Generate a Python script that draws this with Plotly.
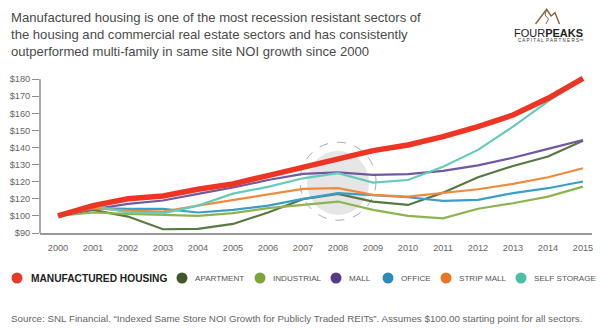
import plotly.graph_objects as go

# ---- data -------------------------------------------------------------
years = [2000, 2001, 2002, 2003, 2004, 2005, 2006, 2007,
         2008, 2009, 2010, 2011, 2012, 2013, 2014, 2015]

manufactured_housing = [100, 106, 110, 111.7, 115.6, 118.7, 123.6, 128.5,
                        133.3, 138.2, 141.5, 146.4, 152.2, 159, 168.8, 180.5]
apartment = [100, 103.5, 99.6, 92.2, 92.4, 95.3, 102, 109.8,
             112.9, 108.4, 106.4, 113.6, 122.6, 129.2, 134.7, 144]
industrial = [100, 102, 101.2, 100.6, 100, 101.6, 104.5, 106.4,
              108.4, 103.5, 100, 98.6, 104.2, 107.4, 111.3, 117.1]
mall = [100, 103.9, 107, 109, 112.9, 116.6, 121, 124.6,
        125.5, 124, 124.4, 126.3, 129.6, 134, 139.2, 144.4]
office = [100, 104.5, 104.1, 104.1, 102, 103.5, 106, 110,
          113.3, 111.9, 110.9, 108.8, 109.4, 113.3, 116.2, 120.1]
strip_mall = [100, 104.5, 103.1, 102.5, 106, 109.4, 112.7, 115.8,
              116.2, 112.3, 111.3, 113.3, 115.6, 118.7, 122.6, 127.9]
self_storage = [100, 106, 102, 101.5, 106, 113, 117, 122,
                125, 119.5, 121, 128.8, 138.6, 152.2, 167, 180]

y_tick_values = [90, 100, 110, 120, 130, 140, 150, 160, 170, 180]
y_tick_labels = ["$90", "$100", "$120", "$120", "$130", "$140",
                 "$150", "$160", "$170", "$180"]

series = [
    ("MANUFACTURED HOUSING", manufactured_housing, "#ee3524", "#e8392a"),
    ("APARTMENT", apartment, "#587a42", "#3f5a28"),
    ("INDUSTRIAL", industrial, "#8db44f", "#7ea53a"),
    ("MALL", mall, "#7257a2", "#553a8a"),
    ("OFFICE", office, "#3a9fc8", "#2a8fb8"),
    ("STRIP MALL", strip_mall, "#f08a3e", "#e87722"),
    ("SELF STORAGE", self_storage, "#66cbb8", "#4dbfa6"),
]

# ---- geometry ----------------------------------------------------------
W, H = 600, 329
L, R, T, B = 40, 592, 74, 233          # plot area in page pixels
FONT = "Liberation Sans, Arial, sans-serif"


def px(x):
    return (x - L) / (R - L)


def py(y):
    return (B - y) / (B - T)


fig = go.Figure()

# highlighted 2008 region (drawn under the lines)
fig.add_shape(type="circle", xref="x", yref="y", xsizemode="pixel", ysizemode="pixel",
              xanchor=2008, yanchor=119.3, x0=-31, x1=31, y0=-32, y1=32,
              fillcolor="#e6e6e6", line=dict(width=0), layer="below")
fig.add_shape(type="circle", xref="x", yref="y", xsizemode="pixel", ysizemode="pixel",
              xanchor=2008, yanchor=120.3, x0=-38, x1=38, y0=-39, y1=39,
              fillcolor="rgba(0,0,0,0)", line=dict(color="#aaaaaa", width=1, dash="dash"),
              layer="below")

# sector lines: manufactured housing drawn last so it sits on top
for name, values, color, _ in series[1:] + series[:1]:
    fig.add_trace(go.Scatter(
        x=years, y=values, mode="lines", name=name,
        line=dict(color=color, width=5.5 if name == "MANUFACTURED HOUSING" else 2.2),
        cliponaxis=False, showlegend=False))

# y axis line (from $90 to $180)
fig.add_shape(type="line", xref="paper", yref="y", x0=0, x1=0, y0=90, y1=180,
              line=dict(color="#8c8c8c", width=1.5))

annotations = []

# title
title_lines = [
    "Manufactured housing is one of the most recession resistant sectors of",
    "the housing and commercial real estate sectors and has consistently",
    "outperformed multi-family in same site NOI growth since 2000",
]
annotations.append(dict(
    xref="paper", yref="paper", x=px(9), y=py(7.5), xanchor="left", yanchor="top",
    text="<br>".join(title_lines), showarrow=False, align="left",
    font=dict(family=FONT, size=13.1, color="#4a4a4a")))

# logo
fig.add_shape(type="path", xref="paper", yref="paper",
              path=(f"M {px(535.5)} {py(24)} L {px(546.7)} {py(9.3)} L {px(551)} {py(16)} "
                    f"L {px(555)} {py(12.7)} L {px(559.5)} {py(24)}"),
              line=dict(color="#8c6239", width=1.4))
fig.add_shape(type="path", xref="paper", yref="paper",
              path=(f"M {px(546.7)} {py(9.3)} L {px(545)} {py(15)} L {px(548.5)} {py(19)} "
                    f"L {px(546)} {py(24)}"),
              line=dict(color="#8c6239", width=1))
annotations.append(dict(
    xref="paper", yref="paper", x=px(548), y=py(33), xanchor="center", yanchor="middle",
    text="FOUR<b>PEAKS</b>", showarrow=False,
    font=dict(family=FONT, size=11, color="#222222")))
annotations.append(dict(
    xref="paper", yref="paper", x=px(551), y=py(40.5), xanchor="center", yanchor="middle",
    text="C A P I T A L  P A R T N E R S™", showarrow=False,
    font=dict(family=FONT, size=4.6, color="#333333")))

# legend row
legend_x = [17, 182, 260, 336, 388, 446, 521]
legend_y = 278
for (name, _, _, dot), cx in zip(series, legend_x):
    fig.add_shape(type="circle", xref="paper", yref="paper",
                  xsizemode="pixel", ysizemode="pixel",
                  xanchor=px(cx), yanchor=py(legend_y), x0=-5.5, x1=5.5, y0=-5.5, y1=5.5,
                  fillcolor=dot, line=dict(width=0))
    big = name == "MANUFACTURED HOUSING"
    annotations.append(dict(
        xref="paper", yref="paper", x=px(cx + (12 if big else 10.5)), y=py(legend_y),
        xanchor="left", yanchor="middle", showarrow=False,
        text=f"<b>{name}</b>" if big else name,
        font=dict(family=FONT, size=10.2 if big else 8.1,
                  color="#222222" if big else "#555555")))

# source note
annotations.append(dict(
    xref="paper", yref="paper", x=px(9), y=py(318), xanchor="left", yanchor="middle",
    showarrow=False,
    text=("Source: SNL Financial. “Indexed Same Store NOI Growth for Publicly Traded REITs”. "
          "Assumes $100.00 starting point for all sectors."),
    font=dict(family=FONT, size=9.8, color="#666666")))

fig.update_layout(
    width=W, height=H,
    margin=dict(l=L, r=W - R, t=T, b=H - B, pad=0),
    paper_bgcolor="white", plot_bgcolor="white",
    showlegend=False,
    annotations=annotations,
    xaxis=dict(range=[2000 - 18 / 35, 2015 + 9 / 35], tickmode="array", tickvals=years,
               ticktext=[str(y) for y in years], showgrid=False, zeroline=False,
               showline=True, linecolor="#9a9a9a", linewidth=2, ticks="",
               tickfont=dict(family=FONT, size=9.2, color="#666666"), ticklabelstandoff=5),
    yaxis=dict(range=[90, 183], tickmode="array", tickvals=y_tick_values,
               ticktext=y_tick_labels, showgrid=False, zeroline=False, showline=False,
               ticks="outside", ticklen=7, tickwidth=1.3, tickcolor="#8c8c8c",
               tickfont=dict(family=FONT, size=9.2, color="#666666")),
)

fig.write_html("out.html")
